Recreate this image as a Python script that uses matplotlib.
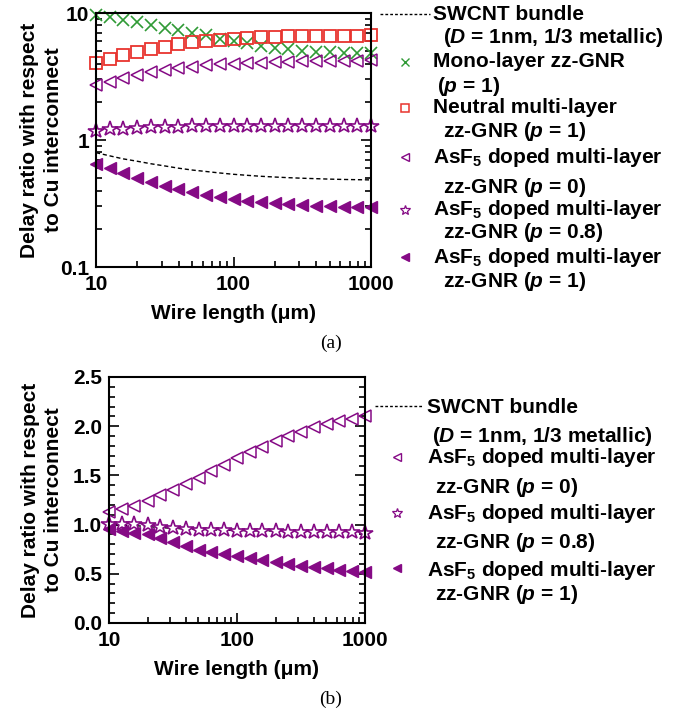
import numpy as np
import matplotlib
matplotlib.use('Agg')
import matplotlib.pyplot as plt
from matplotlib.ticker import FixedLocator, FixedFormatter, MultipleLocator, LogLocator, NullFormatter

# fonts: bold sans everywhere, mathtext for italics / subscripts
plt.rcParams['font.family'] = 'Liberation Sans'
plt.rcParams['font.weight'] = 'bold'
plt.rcParams['mathtext.fontset'] = 'custom'
plt.rcParams['mathtext.rm'] = 'Liberation Sans:bold'
plt.rcParams['mathtext.it'] = 'Liberation Sans:bold:italic'
plt.rcParams['mathtext.bf'] = 'Liberation Sans:bold'

# wire length (um), 10 points per decade
length = [10, 12.6, 15.8, 20, 25.1, 31.6, 39.8, 50.1, 63.1, 79.4, 100,
          126, 158, 200, 251, 316, 398, 501, 631, 794, 1000]

# (a) delay ratio w.r.t. Cu
swcnt_a = [0.795, 0.75, 0.71, 0.68, 0.65, 0.625, 0.60, 0.58, 0.565, 0.55, 0.537,
           0.527, 0.518, 0.511, 0.505, 0.50, 0.496, 0.492, 0.489, 0.487, 0.485]
mono_p1 = [9.64, 9.25, 8.81, 8.45, 8.05, 7.67, 7.31, 7.0, 6.67, 6.24, 6.06,
           5.77, 5.50, 5.33, 5.21, 5.05, 4.96, 4.90, 4.84, 4.81, 4.81]
neutral_p1 = [4.06, 4.31, 4.64, 4.96, 5.21, 5.43, 5.70, 5.91, 6.06, 6.17, 6.28,
              6.36, 6.43, 6.51, 6.55, 6.59, 6.59, 6.63, 6.63, 6.63, 6.67]
asf5_p0_a = [2.71, 2.88, 3.06, 3.23, 3.43, 3.56, 3.66, 3.78, 3.87, 3.94, 3.99,
             4.04, 4.06, 4.09, 4.14, 4.16, 4.16, 4.19, 4.19, 4.21, 4.24]
asf5_p08_a = [1.18, 1.21, 1.23, 1.25, 1.26, 1.27, 1.27, 1.28, 1.28, 1.28, 1.29,
              1.29, 1.29, 1.29, 1.29, 1.29, 1.29, 1.29, 1.29, 1.29, 1.29]
asf5_p1_a = [0.643, 0.598, 0.547, 0.505, 0.464, 0.437, 0.411, 0.390, 0.371, 0.356, 0.343,
             0.333, 0.325, 0.317, 0.311, 0.306, 0.302, 0.300, 0.298, 0.297, 0.295]

# (b) delay ratio, linear scale
swcnt_b = [1.0, 0.995, 0.99, 0.98, 0.97, 0.962, 0.955, 0.95, 0.946, 0.943, 0.94,
           0.938, 0.936, 0.935, 0.934, 0.933, 0.932, 0.931, 0.93, 0.93, 0.93]
asf5_p0_b = [1.129, 1.163, 1.19, 1.24, 1.30, 1.354, 1.41, 1.473, 1.54, 1.61, 1.673,
             1.738, 1.79, 1.854, 1.905, 1.946, 1.99, 2.024, 2.05, 2.078, 2.099]
asf5_p08_b = [1.003, 1.003, 1.003, 0.993, 0.980, 0.963, 0.952, 0.946, 0.946, 0.942, 0.939,
              0.935, 0.932, 0.932, 0.929, 0.925, 0.925, 0.922, 0.922, 0.922, 0.918]
asf5_p1_b = [0.952, 0.935, 0.918, 0.901, 0.867, 0.823, 0.779, 0.745, 0.721, 0.697, 0.680,
             0.656, 0.636, 0.619, 0.595, 0.575, 0.565, 0.554, 0.537, 0.524, 0.514]

green = '#2f9a35'
red = '#e8342e'
purple = '#850a85'
fs = 15

W, H = 690, 713
fig = plt.figure(figsize=(W / 100, H / 100), dpi=100)


def style_axes(ax, left_px, width_px):
    for s in ax.spines.values():
        s.set_linewidth(1.5)
    ax.tick_params(which='both', direction='in', right=True, top=False,
                   labelsize=fs, width=1.2)
    ax.tick_params(axis='x', pad=5.5)
    ax.tick_params(axis='y', pad=5)
    ax.tick_params(which='major', length=7)
    ax.tick_params(which='minor', length=4)
    ax.set_xscale('log')
    ax.set_xlim(10, 1000)
    ax.xaxis.set_major_locator(FixedLocator([10, 100, 1000]))
    ax.xaxis.set_major_formatter(FixedFormatter(['10', '100', '1000']))
    ax.xaxis.set_minor_locator(LogLocator(base=10, subs=np.arange(2, 10)))
    ax.xaxis.set_minor_formatter(NullFormatter())
    ax.set_xlabel('Wire length (\u03bcm)', fontsize=fs, fontweight='bold', labelpad=7.5)
    ax.set_ylabel('Delay ratio with respect\nto Cu interconnect', fontsize=fs,
                  fontweight='bold', linespacing=1.3)
    # right edge of the y label block at ~63 px from the figure's left
    ax.yaxis.set_label_coords((63 - left_px) / width_px, 0.5)


# ---- (a) log scale
ax1 = fig.add_axes([96 / W, 1 - 267 / H, 275 / W, 254 / H])
ax1.plot(length, swcnt_a, color='black', lw=1, dashes=(3, 2))
ax1.plot(length, mono_p1, 'x', ms=9, mew=1.2, color=green, clip_on=False)
ax1.plot(length, neutral_p1, 's', ms=8.5, mew=1.3, mfc='none', mec=red, clip_on=False)
ax1.plot(length, asf5_p0_a, '<', ms=8, mew=1.1, mfc='none', mec=purple, clip_on=False)
ax1.plot(length, asf5_p08_a, '*', ms=11.5, mew=1.2, mfc='white', mec=purple, clip_on=False)
ax1.plot(length, asf5_p1_a, '<', ms=8, color=purple, clip_on=False)
style_axes(ax1, 96, 275)
ax1.set_yscale('log')
ax1.set_ylim(0.1, 10)
ax1.yaxis.set_major_locator(FixedLocator([0.1, 1, 10]))
ax1.yaxis.set_major_formatter(FixedFormatter(['0.1', '1', '10']))
ax1.yaxis.set_minor_locator(LogLocator(base=10, subs=np.arange(2, 10)))
ax1.yaxis.set_minor_formatter(NullFormatter())

# ---- (b) linear scale
ax2 = fig.add_axes([109 / W, 1 - 623 / H, 256 / W, 246 / H])
ax2.plot(length, swcnt_b, color='black', lw=1, dashes=(3, 2))
ax2.plot(length, asf5_p0_b, '<', ms=8, mew=1.1, mfc='none', mec=purple, clip_on=False)
ax2.plot(length, asf5_p08_b, '*', ms=11.5, mew=1.2, mfc='white', mec=purple, clip_on=False)
ax2.plot(length, asf5_p1_b, '<', ms=8, color=purple, clip_on=False)
style_axes(ax2, 109, 256)
ax2.set_ylim(0, 2.5)
ax2.yaxis.set_major_locator(FixedLocator([0, 0.5, 1.0, 1.5, 2.0, 2.5]))
ax2.yaxis.set_major_formatter(FixedFormatter(['0.0', '0.5', '1.0', '1.5', '2.0', '2.5']))
ax2.yaxis.set_minor_locator(MultipleLocator(0.1))

# ---- legends, drawn on a pixel-space overlay
lg = fig.add_axes([0, 0, 1, 1], zorder=5)
lg.set_xlim(0, W)
lg.set_ylim(H, 0)
lg.axis('off')

asf5 = r'AsF$_5$ doped multi-layer'
swcnt_txt = r'($D$ = 1nm, 1/3 metallic)'

# (a)
lg.plot([380, 430], [14, 14], color='black', lw=1, dashes=(2, 1.5))
lg.plot(405, 62, 'x', ms=6, mew=1, color=green)
lg.plot(405, 108, 's', ms=5.5, mew=1.1, mfc='none', mec=red)
lg.plot(405, 157, '<', ms=5.5, mew=1, mfc='none', mec=purple)
lg.plot(405, 210, '*', ms=7.5, mew=0.9, mfc='white', mec=purple)
lg.plot(405, 257, '<', ms=5.5, color=purple)
rows_a = [(433, 20, 'SWCNT bundle'), (443, 43, swcnt_txt),
          (433, 67, 'Mono-layer zz-GNR'), (437, 92, r'($p$ = 1)'),
          (433, 113, 'Neutral multi-layer'), (443, 137, r'zz-GNR ($p$ = 1)'),
          (433, 163, asf5), (443, 193, r'zz-GNR ($p$ = 0)'),
          (433, 215, asf5), (443, 238, r'zz-GNR ($p$ = 0.8)'),
          (433, 263, asf5), (443, 287, r'zz-GNR ($p$ = 1)')]
for x, y, t in rows_a:
    lg.text(x, y, t, fontsize=fs, fontweight='bold', va='baseline', ha='left')

# (b)
lg.plot([375, 422], [406, 406], color='black', lw=1, dashes=(2, 1.5))
lg.plot(397, 457, '<', ms=5.5, mew=1, mfc='none', mec=purple)
lg.plot(397, 513, '*', ms=7.5, mew=0.9, mfc='white', mec=purple)
lg.plot(397, 568, '<', ms=5.5, color=purple)
rows_b = [(427, 413, 'SWCNT bundle'), (432, 442, swcnt_txt),
          (427, 463, asf5), (435, 493, r'zz-GNR ($p$ = 0)'),
          (427, 519, asf5), (435, 548, r'zz-GNR ($p$ = 0.8)'),
          (427, 576, asf5), (435, 600, r'zz-GNR ($p$ = 1)')]
for x, y, t in rows_b:
    lg.text(x, y, t, fontsize=fs, fontweight='bold', va='baseline', ha='left')

# panel captions
lg.text(331, 343, '(a)', fontsize=14, family='Liberation Serif', fontweight='normal',
        ha='center', va='center')
lg.text(331, 699, '(b)', fontsize=14, family='Liberation Serif', fontweight='normal',
        ha='center', va='center')

fig.savefig('out.png', dpi=100)
